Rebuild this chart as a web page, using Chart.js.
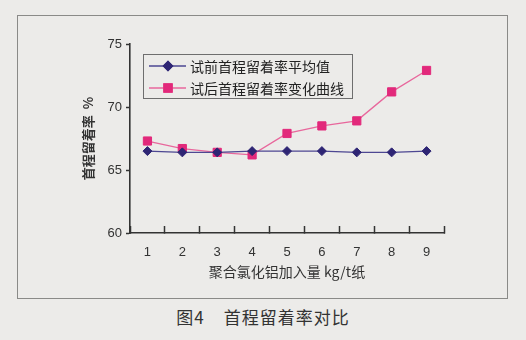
<!DOCTYPE html>
<html>
<head>
<meta charset="utf-8">
<script src="https://cdn.jsdelivr.net/npm/chart.js@4/dist/chart.umd.min.js"></script>
<style>
  body { margin: 0; background: #ecebe9; width: 526px; height: 340px; overflow: hidden; position: relative; }
  #frame { position: absolute; left: 17px; top: 15px; width: 489px; height: 282px; border: 1px solid #8a8a88; }
  #wrap { position: absolute; left: 0; top: 0; width: 526px; height: 300px; }
  #caption { position: absolute; left: 0; top: 304px; width: 526px; text-align: center;
    font-family: "Noto Sans CJK SC", sans-serif; font-size: 17px; color: #333; letter-spacing: 1px; }
</style>
</head>
<body>
<div id="frame"></div>
<div id="wrap"><canvas id="chart"></canvas></div>
<div id="caption">图4&nbsp;&nbsp;&nbsp;&nbsp;首程留着率对比</div>
<script>
var dosage = ['1', '2', '3', '4', '5', '6', '7', '8', '9'];
var beforeAvg = [66.5, 66.4, 66.4, 66.5, 66.5, 66.5, 66.4, 66.4, 66.5];
var afterCurve = [67.3, 66.7, 66.4, 66.2, 67.9, 68.5, 68.9, 71.2, 72.9];
var yTicks = [60, 65, 70, 75];

var cjk = '"Noto Sans CJK SC", sans-serif';
var latin = '"Liberation Sans", "DejaVu Sans", sans-serif';

// legend box drawn by hand, styled like the original (bordered box inside the plot)
var boxLegend = {
    id: 'boxLegend',
    afterDraw: function(chart) {
        var ctx = chart.ctx;
        ctx.save();
        ctx.fillStyle = '#ecebe9';
        ctx.strokeStyle = '#6e6e6e';
        ctx.lineWidth = 1;
        ctx.fillRect(143.5, 54.5, 209, 44);
        ctx.strokeRect(143.5, 54.5, 209, 44);
        var rows = [66, 88];
        chart.data.datasets.forEach(function(ds, i) {
            var y = rows[i];
            ctx.strokeStyle = ds.borderColor;
            ctx.lineWidth = 1.3;
            ctx.beginPath();
            ctx.moveTo(149, y);
            ctx.lineTo(186, y);
            ctx.stroke();
            Chart.helpers.drawPoint(ctx, {
                pointStyle: ds.pointStyle,
                radius: ds.pointRadius,
                borderWidth: 1
            }, 168, y);
            ctx.fillStyle = ds.pointBackgroundColor;
            ctx.strokeStyle = ds.pointBorderColor;
            ctx.fill();
            ctx.stroke();
            ctx.fillStyle = '#222';
            ctx.font = '14px ' + cjk;
            ctx.textBaseline = 'middle';
            ctx.fillText(ds.label, 190, y + 1);
        });
        ctx.restore();
    }
};

var ctx = document.getElementById('chart').getContext('2d');
var chart = new Chart(ctx, {
    type: 'line',
    data: {
        labels: dosage,
        datasets: [{
            label: '试前首程留着率平均值',
            data: beforeAvg,
            borderColor: '#4d4792',
            borderWidth: 1.3,
            pointStyle: 'rectRot',
            pointRadius: 4.5,
            pointBackgroundColor: '#2e2574',
            pointBorderColor: '#2e2574',
            pointBorderWidth: 1,
            tension: 0
        }, {
            label: '试后首程留着率变化曲线',
            data: afterCurve,
            borderColor: '#e8679c',
            borderWidth: 1.3,
            pointStyle: 'rect',
            pointRadius: 5.8,
            pointBackgroundColor: '#e2297b',
            pointBorderColor: '#e2297b',
            pointBorderWidth: 1,
            tension: 0
        }]
    },
    options: {
        responsive: true,
        maintainAspectRatio: false,
        animation: false,
        layout: { padding: { left: 0, top: 44, right: 82, bottom: 0 } },
        scales: {
            x: {
                offset: true,
                grid: {
                    offset: true,
                    drawOnChartArea: false,
                    drawTicks: true,
                    tickLength: -7,
                    tickWidth: 1.5,
                    color: '#333'
                },
                border: { color: '#333', width: 1.6 },
                ticks: {
                    padding: 19,
                    color: '#333',
                    font: { family: latin, size: 13 }
                },
                title: {
                    display: true,
                    text: '聚合氯化铝加入量 kg/t纸',
                    color: '#333',
                    font: { family: cjk, size: 14 },
                    padding: { top: 0, bottom: 20 }
                },
                afterFit: function(scale) { scale.height = 67; }
            },
            y: {
                min: 60,
                max: 75,
                afterBuildTicks: function(scale) {
                    scale.ticks = yTicks.map(function(v) { return { value: v }; });
                },
                grid: {
                    drawOnChartArea: false,
                    drawTicks: true,
                    tickLength: 4,
                    tickWidth: 1.5,
                    color: '#333'
                },
                border: { color: '#333', width: 1.6 },
                ticks: {
                    padding: 4,
                    color: '#333',
                    font: { family: latin, size: 13 }
                },
                title: {
                    display: true,
                    text: '首程留着率  %',
                    color: '#333',
                    font: { family: cjk, size: 13, weight: 'bold' },
                    padding: { top: 80, bottom: 0 }
                },
                afterFit: function(scale) { scale.width = 130; }
            }
        },
        plugins: {
            legend: { display: false },
            tooltip: { enabled: false }
        }
    },
    plugins: [boxLegend]
});
</script>
</body>
</html>
